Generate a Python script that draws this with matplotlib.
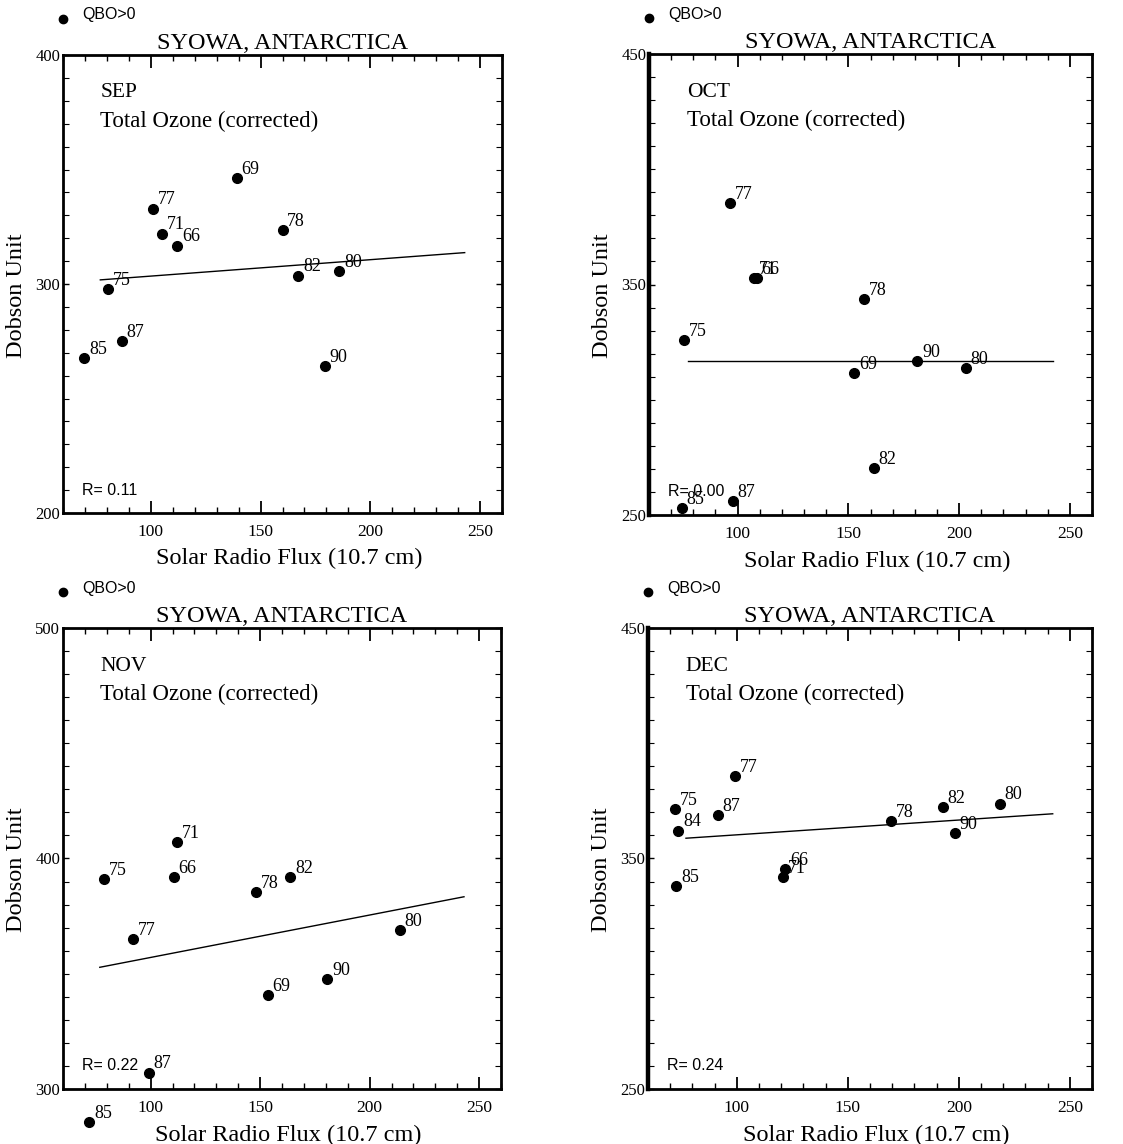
import matplotlib
matplotlib.use("Agg")
import matplotlib.pyplot as plt
from matplotlib.ticker import MultipleLocator, FixedLocator

plt.rcParams['font.family'] = ['Liberation Serif', 'DejaVu Serif']

# ---------------- data ----------------
months = ['SEP', 'OCT', 'NOV', 'DEC']
r_texts = ['R= 0.11', 'R= 0.00', 'R= 0.22', 'R= 0.24']
y_ranges = [(200, 400), (250, 450), (300, 500), (250, 450)]
y_ticklabels = [[200, 300, 400], [250, 350, 450], [300, 400, 500], [250, 350, 450]]
x_ticklabels = [100, 150, 200, 250]

sep_years = ['69', '77', '71', '66', '78', '82', '80', '75', '87', '85', '90']
sep_flux = [139.1, 100.9, 105.2, 112.1, 160.0, 167.1, 185.9, 80.3, 86.8, 69.7, 179.2]
sep_ozone = [346.3, 332.9, 322.0, 316.8, 323.4, 303.7, 305.5, 297.9, 275.0, 267.7, 264.0]
sep_fit_x = [77.0, 243.0]
sep_fit_y = [301.8, 313.7]

oct_years = ['77', '71', '66', '78', '75', '90', '69', '80', '82', '87', '85']
oct_flux = [96.4, 107.2, 108.7, 157.0, 75.8, 181.1, 152.7, 203.0, 161.5, 97.7, 74.9]
oct_ozone = [385.2, 352.7, 352.7, 343.7, 325.8, 316.8, 311.5, 313.9, 270.2, 256.1, 252.9]
oct_fit_x = [77.5, 242.3]
oct_fit_y = [316.8, 316.8]

nov_years = ['71', '75', '66', '78', '82', '77', '80', '90', '69', '87', '85']
nov_flux = [111.9, 78.9, 110.6, 148.2, 163.8, 91.8, 213.7, 180.7, 153.4, 99.1, 71.9]
nov_ozone = [407.3, 391.0, 391.8, 385.3, 391.8, 364.9, 369.0, 347.6, 340.6, 307.1, 285.8]
nov_fit_x = [76.8, 243.1]
nov_fit_y = [352.8, 383.4]

dec_years = ['77', '75', '87', '84', '78', '82', '80', '90', '66', '71', '85']
dec_flux = [99.1, 72.3, 91.4, 73.6, 169.6, 192.8, 218.4, 198.2, 121.8, 120.6, 72.8]
dec_ozone = [385.7, 371.3, 368.7, 362.1, 366.3, 372.2, 373.8, 360.9, 345.4, 342.1, 338.1]
dec_fit_x = [77.1, 242.3]
dec_fit_y = [358.8, 369.4]

panels = [
    (sep_years, sep_flux, sep_ozone, sep_fit_x, sep_fit_y),
    (oct_years, oct_flux, oct_ozone, oct_fit_x, oct_fit_y),
    (nov_years, nov_flux, nov_ozone, nov_fit_x, nov_fit_y),
    (dec_years, dec_flux, dec_ozone, dec_fit_x, dec_fit_y),
]

# ---------------- layout ----------------
W, H = 1123, 1144
fig = plt.figure(figsize=(W / 100, H / 100), dpi=100)
# axes boxes in pixels: left, top, right, bottom
boxes = [(63, 55, 502, 513), (649, 54, 1092, 515), (63, 628, 501, 1089), (648, 628, 1092, 1089)]
left_lw = [2.0, 3.2, 2.0, 3.2]

for i, (box, data) in enumerate(zip(boxes, panels)):
    l, t, r, b = box
    ax = fig.add_axes([l / W, 1 - b / H, (r - l) / W, (b - t) / H])
    years, flux, ozone, fx, fy = data
    ax.set_xlim(60, 260)
    ax.set_ylim(*y_ranges[i])

    ax.plot(fx, fy, color='black', lw=1.0, zorder=2)
    ax.plot(flux, ozone, 'o', color='black', markersize=7, clip_on=False, zorder=3)
    for yr, xv, yv in zip(years, flux, ozone):
        ax.annotate(yr, (xv, yv), xytext=(3.5, 3.0), textcoords='offset points',
                    ha='left', va='baseline', fontsize=13, annotation_clip=False)

    # ticks
    ax.xaxis.set_major_locator(FixedLocator(x_ticklabels))
    ax.xaxis.set_minor_locator(MultipleLocator(10))
    ax.yaxis.set_major_locator(FixedLocator(y_ticklabels[i]))
    ax.yaxis.set_minor_locator(MultipleLocator(10))
    ax.tick_params(axis='x', which='major', direction='in', length=9, width=1.3,
                   top=True, bottom=True, labelsize=12.5, pad=8)
    ax.tick_params(axis='x', which='minor', direction='in', length=4, width=1.0,
                   top=True, bottom=True)
    ax.tick_params(axis='y', which='major', direction='in', length=4, width=1.0,
                   left=True, right=True, labelsize=12, pad=2)
    ax.tick_params(axis='y', which='minor', direction='in', length=4, width=0.8,
                   left=True, right=True)

    for side in ['top', 'bottom', 'right']:
        ax.spines[side].set_linewidth(2.0)
    ax.spines['left'].set_linewidth(left_lw[i])

    ax.set_xlabel('Solar Radio Flux (10.7 cm)', fontsize=17.5)
    ax.xaxis.set_label_coords(0.515, -0.077)
    ax.set_ylabel('Dobson Unit', fontsize=17.5)
    ax.yaxis.set_label_coords(-0.082, 0.475)

    ax.set_title('SYOWA, ANTARCTICA', fontsize=17.5, pad=4)

    ax.text(0.085, 0.938, months[i], transform=ax.transAxes, fontsize=15.5,
            ha='left', va='top')
    ax.text(0.085, 0.878, 'Total Ozone (corrected)', transform=ax.transAxes,
            fontsize=16.5, ha='left', va='top')
    ax.text(0.043, 0.05, r_texts[i], transform=ax.transAxes, fontsize=11.5,
            ha='left', va='center', family=['Liberation Sans', 'DejaVu Sans'])

    # QBO>0 legend above axes
    ax.plot([0.0], [1.0 + 36 / (b - t)], 'o', color='black', markersize=6,
            transform=ax.transAxes, clip_on=False)
    ax.text(0.043, 1.0 + 40 / (b - t), 'QBO>0', transform=ax.transAxes,
            fontsize=11.5, ha='left', va='center',
            family=['Liberation Sans', 'DejaVu Sans'])

fig.savefig('out.png', dpi=100)
